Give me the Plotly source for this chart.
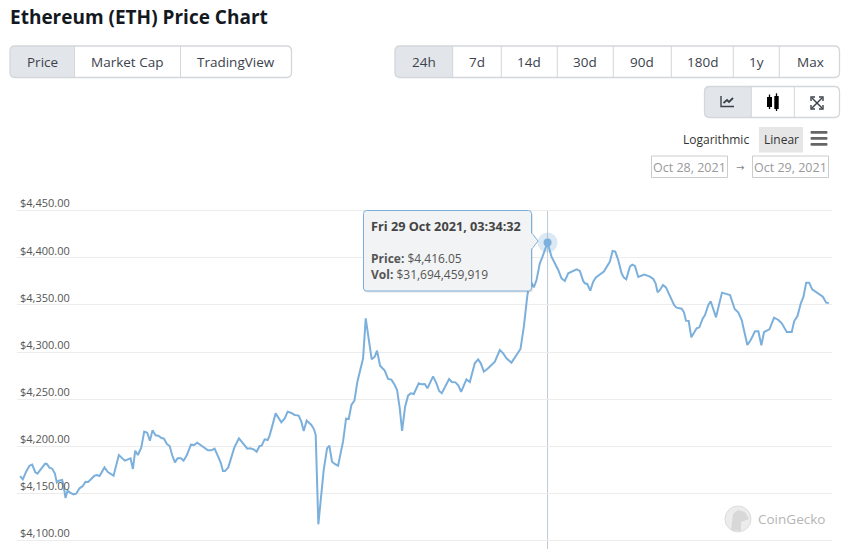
import plotly.graph_objects as go
import pandas as pd
import numpy as np

W, H = 853, 549

# minutes since the start of the window
minutes = [0, 4.8, 10.7, 16.7, 21.5, 26.9, 31, 37.6, 44.8, 47.8, 52.5, 57.3, 62.1, 65.7, 69.3, 75.2, 77.6, 81.2, 84.8, 89.6,
           95.5, 100.3, 106.3, 112.2, 117, 121.8, 127.2, 133.1, 137.3, 142.1, 151, 157, 167.2, 176.7, 187.5, 197.6, 201.8, 206, 210.7, 216.7,
           222.1, 227.5, 232.2, 237, 242.4, 247.2, 253.1, 257.3, 262.7, 267.5, 272.2, 277, 281.8, 287.8, 292.5, 298.5, 305.7, 311.6, 317, 323,
           330.1, 336.1, 342.1, 348, 355.8, 359.4, 363, 366.6, 372.5, 377.3, 383.3, 391.6, 398.8, 406.6, 411.9, 417.9, 423.3, 428.6, 432.2, 437.6,
           443, 446.6, 452.5, 457.3, 467.5, 473.5, 478.8, 485.4, 491.3, 498.5, 503.3, 507.5, 512.8, 521.2, 526, 529, 533.7, 539.1, 543.3, 549.3,
           553.4, 558.2, 563, 569, 577.9, 583.3, 588.1, 592.9, 598.3, 603.6, 613.8, 618.5, 624.5, 629.2, 634.6, 638.8, 644.2, 652.5, 658.5, 664.5,
           670.4, 674.6, 679.4, 683.6, 689, 694.3, 699.1, 704.5, 713.4, 718.2, 724.2, 729, 739.1, 745.1, 749.9, 754.6, 767.8, 772.5, 779.1, 784.5,
           789.2, 798.8, 804.8, 813.7, 819.7, 824.5, 829.9, 837.6, 849.6, 858.5, 864.5, 870.4, 879.4, 891.3, 895.5, 901.5, 907.5, 912.2, 919.4, 924.2,
           930.1, 934.9, 943.9, 951, 957, 963, 968.9, 974.9, 980.9, 988, 995.8, 1001.7, 1007.7, 1010.7, 1014.9, 1020.3, 1025.7, 1030.4, 1037.6, 1044.8,
           1055.5, 1060.3, 1065.1, 1070.4, 1076.4, 1080.6, 1084.8, 1091.3, 1095.5, 1100.3, 1106.3, 1117, 1127.2, 1133.1, 1137.3, 1140.9, 1145.1, 1150.5, 1155.8, 1166,
           1170.8, 1175, 1183.9, 1188.1, 1191.7, 1196.5, 1201.2, 1210.8, 1215.6, 1221.5, 1225.7, 1231.7, 1235.9, 1245.4, 1251.4, 1256.1, 1270.5, 1278.8, 1285.4, 1291.4,
           1301.5, 1307.5, 1315.2, 1321.2, 1326.6, 1331.4, 1341, 1349.3, 1357.1, 1363.1, 1372.1, 1381, 1385.2, 1391.2, 1397.2, 1402, 1406.8, 1412.1, 1417.5, 1428.9,
           1436.6, 1442.6, 1447.4]

prices = [4168.4, 4164.9, 4173.0, 4179.4, 4180.5, 4172.7, 4170.9, 4175.9, 4181.5, 4181.2, 4177.3, 4176.2, 4171.3, 4161.7, 4163.5, 4164.2, 4158.9, 4145.1, 4152.9, 4150.8,
          4149.0, 4149.7, 4155.4, 4157.8, 4162.4, 4162.1, 4165.3, 4168.8, 4169.5, 4168.4, 4177.6, 4172.7, 4168.8, 4190.7, 4184.7, 4187.2, 4175.9, 4195.3, 4190.7, 4198.5,
          4215.5, 4214.4, 4205.9, 4216.9, 4211.6, 4211.2, 4208.8, 4208.1, 4202.4, 4200.3, 4190.4, 4182.9, 4187.2, 4187.2, 4184.7, 4190.7, 4201.7, 4201.3, 4203.8, 4201.3,
          4197.4, 4195.7, 4195.7, 4197.4, 4187.2, 4181.9, 4173.7, 4173.7, 4177.6, 4187.2, 4198.5, 4208.4, 4203.1, 4197.4, 4197.8, 4196.7, 4194.3, 4200.3, 4200.6, 4207.3,
          4206.6, 4211.6, 4224.3, 4234.9, 4225.4, 4229.6, 4236.7, 4235.3, 4233.2, 4232.5, 4226.1, 4216.2, 4227.2, 4222.6, 4218.0, 4211.9, 4117.2, 4150.0, 4174.8, 4197.8,
          4200.6, 4183.6, 4181.2, 4179.4, 4204.9, 4229.3, 4228.9, 4243.8, 4248.4, 4268.5, 4293.3, 4335.7, 4312.7, 4292.2, 4295.1, 4301.4, 4285.5, 4280.2, 4271.4, 4270.7,
          4265.0, 4259.7, 4240.2, 4216.2, 4242.0, 4253.7, 4256.2, 4255.4, 4266.8, 4265.7, 4266.1, 4261.5, 4274.2, 4266.8, 4258.6, 4256.2, 4271.4, 4268.2, 4267.8, 4264.3,
          4257.6, 4271.0, 4268.2, 4288.0, 4292.2, 4288.0, 4279.1, 4282.7, 4289.8, 4302.1, 4298.6, 4293.3, 4288.7, 4300.4, 4303.2, 4326.9, 4358.7, 4376.4, 4368.6, 4376.4,
          4394.1, 4401.2, 4416.05, 4401.2, 4394.1, 4387.0, 4378.2, 4375.4, 4383.5, 4385.6, 4387.7, 4386.0, 4375.4, 4372.9, 4372.2, 4365.1, 4374.6, 4379.2, 4382.1, 4385.3,
          4395.9, 4407.2, 4406.5, 4397.6, 4383.5, 4378.9, 4377.1, 4390.6, 4392.7, 4391.3, 4379.6, 4382.1, 4380.0, 4377.5, 4372.9, 4363.3, 4365.8, 4371.1, 4368.6, 4356.3,
          4349.5, 4347.1, 4346.0, 4342.1, 4333.3, 4332.9, 4315.6, 4325.1, 4326.2, 4335.4, 4339.3, 4349.9, 4353.8, 4336.8, 4351.7, 4363.0, 4360.5, 4345.6, 4341.8, 4334.0,
          4307.4, 4312.7, 4321.9, 4321.9, 4307.1, 4321.2, 4324.1, 4336.4, 4334.0, 4330.4, 4321.2, 4321.2, 4332.6, 4338.2, 4351.7, 4358.7, 4373.6, 4373.6, 4366.5, 4362.3,
          4358.7, 4352.4, 4352.0]

start_time = pd.Timestamp("2021-10-28 11:50:38")
tab_labels = ["Price", "Market Cap", "TradingView"]
range_labels = ["24h", "7d", "14d", "30d", "90d", "180d", "1y", "Max"]
tooltip_title = "Fri 29 Oct 2021, 03:34:32"
tooltip_price = "$4,416.05"
tooltip_vol = "$31,694,459,919"

FONT = "Open Sans"
BORDER = "#d3d6da"
ACTIVE = "#e2e5e9"
BTN_TEXT = "#3b424c"
LINE = "#7cb0dc"

times = start_time + pd.to_timedelta(minutes, unit="min")
peak = int(np.argmax(prices))

shapes = []
annotations = []


def fx(x):
    return x / W


def fy(y):
    return 1 - y / H


def rrect(x0, y0, x1, y1, rl=0, rr=0):
    # rounded rectangle as an svg path in paper coordinates
    pts = [f"M {fx(x0 + rl)} {fy(y0)}", f"L {fx(x1 - rr)} {fy(y0)}"]
    if rr:
        pts.append(f"Q {fx(x1)} {fy(y0)} {fx(x1)} {fy(y0 + rr)}")
    pts.append(f"L {fx(x1)} {fy(y1 - rr)}")
    if rr:
        pts.append(f"Q {fx(x1)} {fy(y1)} {fx(x1 - rr)} {fy(y1)}")
    pts.append(f"L {fx(x0 + rl)} {fy(y1)}")
    if rl:
        pts.append(f"Q {fx(x0)} {fy(y1)} {fx(x0)} {fy(y1 - rl)}")
    pts.append(f"L {fx(x0)} {fy(y0 + rl)}")
    if rl:
        pts.append(f"Q {fx(x0)} {fy(y0)} {fx(x0 + rl)} {fy(y0)}")
    return " ".join(pts) + " Z"


def add_path(d, fill="rgba(0,0,0,0)", line=None, width=1):
    shapes.append(dict(type="path", xref="paper", yref="paper", path=d, fillcolor=fill, layer="above",
                       line=dict(color=line or "rgba(0,0,0,0)", width=width if line else 0)))


def add_poly(points, fill="rgba(0,0,0,0)", line=None, width=1, close=False):
    d = "M " + " L ".join(f"{fx(a)} {fy(b)}" for a, b in points)
    add_path(d + (" Z" if close else ""), fill, line, width)


def add_text(x, y, text, size=14, color=BTN_TEXT, anchor="center", family=FONT):
    annotations.append(dict(xref="paper", yref="paper", x=fx(x), y=fy(y), text=text, showarrow=False,
                            xanchor=anchor, yanchor="middle", align=anchor if anchor != "center" else "center",
                            font=dict(family=family, size=size, color=color)))


def button_group(x0, x1, y0, y1, seps):
    add_path(rrect(x0, y0, seps[0], y1, rl=5), ACTIVE)
    add_path(rrect(x0, y0, x1, y1, rl=5, rr=5), line=BORDER, width=1.3)
    for s in seps:
        add_poly([(s, y0), (s, y1)], line=BORDER)


# top buttons
button_group(10, 291.5, 46, 77.5, [74.5, 180.5])
for cx, lab in zip([42, 127, 236], tab_labels):
    add_text(cx, 62, lab, size=13.5)

button_group(395, 839.5, 46, 77.5, [452.7, 501.3, 557.3, 613.3, 671.3, 733.3, 779.3])
for cx, lab in zip([424, 477, 529, 585, 642, 702, 756, 810], range_labels):
    add_text(cx, 62, lab, size=13.5)

button_group(704.5, 839.5, 86.5, 117.5, [751.3, 794.3])

# chart type icons
add_poly([(721, 96), (721, 106.5), (734, 106.5)], line="#3b424c", width=1.4)
add_poly([(723.5, 103), (727, 100), (729, 102), (733, 98)], line="#3b424c", width=1.8)
add_path(rrect(767, 97, 772, 107), "#000000")
add_poly([(769.5, 94.5), (769.5, 109)], line="#000000", width=1.3)
add_path(rrect(774.3, 96, 778.7, 109), "#000000")
add_poly([(776.5, 93.3), (776.5, 111)], line="#000000", width=1.3)
add_poly([(812, 98), (822, 108)], line="#3b424c", width=1.4)
add_poly([(822, 98), (812, 108)], line="#3b424c", width=1.4)
add_poly([(811, 101), (811, 97), (815, 97)], line="#3b424c", width=1.4)
add_poly([(819, 97), (823, 97), (823, 101)], line="#3b424c", width=1.4)
add_poly([(811, 105), (811, 109), (815, 109)], line="#3b424c", width=1.4)
add_poly([(819, 109), (823, 109), (823, 105)], line="#3b424c", width=1.4)

# scale switch, menu, date inputs
add_path(rrect(759, 127, 803, 152.5), "#e6e6e6")
add_text(716, 139.5, "Logarithmic", size=12, color="#333333")
add_text(781, 139.5, "Linear", size=12, color="#333333")
for by in [131, 137, 143]:
    add_path(rrect(810.5, by, 827.5, by + 2.8, rl=1, rr=1), "#666666")
add_path(rrect(651.5, 156, 727.5, 177.5), line="#cccccc")
add_path(rrect(752.5, 156, 828.5, 177.5), line="#cccccc")
add_text(689.5, 167.5, "Oct 28, 2021", size=12.5, color="#999999")
add_text(790.5, 167.5, "Oct 29, 2021", size=12.5, color="#999999")
add_text(740, 167.5, "→", size=10, color="#888888", family="DejaVu Sans")

# title
add_text(8, 17, "<b>Ethereum (ETH) Price Chart</b>", size=19, color="#14191f", anchor="left")

# crosshair at the hovered point
shapes.append(dict(type="line", xref="x", yref="paper", x0=times[peak], x1=times[peak], y0=0, y1=fy(210),
                   line=dict(color="#c3cad2", width=1), layer="below"))

# tooltip
add_path(rrect(364.5, 212.5, 533, 292.5, rl=3, rr=3), "rgba(0,0,0,0.10)")
add_poly([(531.5, 232.5), (538, 241), (531.5, 249.5)], "#f2f3f4", LINE, 1, close=True)
add_path(rrect(363.5, 210.5, 531.5, 291, rl=3, rr=3), "#f2f3f4", LINE, 1)
add_poly([(531.5, 233.5), (531.5, 248.5)], line="#f2f3f4", width=2)
add_text(369, 226, f"<b>{tooltip_title}</b>", size=12.7, color="#444444", anchor="left")
add_text(369, 266.5, f"<b>Price:</b> {tooltip_price}<br><b>Vol:</b> {tooltip_vol}", size=12, color="#555555", anchor="left")

# watermark
shapes.append(dict(type="circle", xref="paper", yref="paper", x0=fx(725), x1=fx(751), y0=fy(532), y1=fy(506),
                   fillcolor="#ececec", line=dict(color="#dddddd", width=1), layer="below"))
add_poly([(731, 530), (733, 514), (738, 510), (745, 512), (749, 519), (741, 522), (741, 531)], "#d8d8d8", close=True)
add_text(791, 519, "CoinGecko", size=13.5, color="#b5b5b5")

fig = go.Figure()
fig.add_trace(go.Scatter(x=times, y=prices, mode="lines", line=dict(color=LINE, width=2), hoverinfo="skip"))
fig.add_trace(go.Scatter(x=[times[peak]], y=[prices[peak]], mode="markers", hoverinfo="skip",
                         marker=dict(color=LINE, size=20, opacity=0.28, line=dict(width=0))))
fig.add_trace(go.Scatter(x=[times[peak]], y=[prices[peak]], mode="markers", hoverinfo="skip",
                         marker=dict(color=LINE, size=8, line=dict(width=0))))

fig.update_layout(
    width=W, height=H, margin=dict(l=0, r=0, t=0, b=0), autosize=False,
    paper_bgcolor="white", plot_bgcolor="white", showlegend=False,
    shapes=shapes, annotations=annotations,
    font=dict(family=FONT),
)
fig.update_xaxes(visible=False, domain=[fx(17), fx(832)],
                 range=[start_time + pd.Timedelta(minutes=-5.6), start_time + pd.Timedelta(minutes=1453)])
fig.update_yaxes(domain=[0, fy(170)], range=[4091, 4493.1], tick0=4100, dtick=50,
                 tickprefix="$", tickformat=",.2f", ticklabelposition="inside", ticklabelshift=-7,
                 showline=False, zeroline=False, ticks="",
                 gridcolor="#ececec", gridwidth=1,
                 tickfont=dict(family=FONT, size=11, color="#555555"))

fig.write_html("out.html", config=dict(displayModeBar=False),
               post_script="document.body.style.margin='0';document.body.style.overflow='hidden';")
